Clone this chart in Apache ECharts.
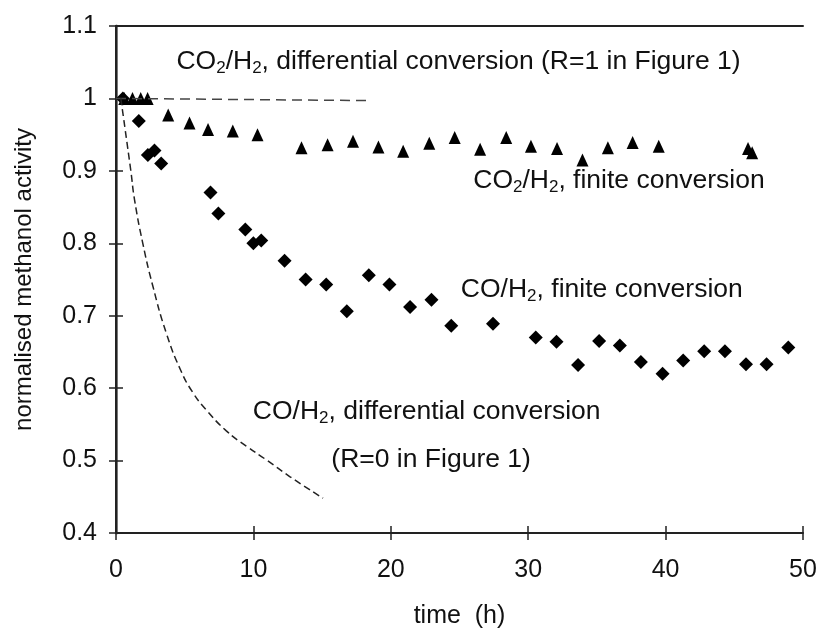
<!DOCTYPE html>
<html>
<head>
<meta charset="utf-8">
<script src="https://cdn.jsdelivr.net/npm/echarts@6/dist/echarts.min.js"></script>
<style>
  html, body { margin: 0; padding: 0; background: #fff; }
  #main { width: 821px; height: 628px; }
</style>
</head>
<body>
<div id="main"></div>
<script>
// CO2/H2, finite conversion (triangles)
let co2Finite = [
  [0.6, 1.0], [1.2, 1.0], [1.8, 1.0], [2.3, 1.0], [3.8, 0.977], [5.35, 0.966],
  [6.7, 0.957], [8.5, 0.955], [10.3, 0.95], [13.5, 0.932], [15.4, 0.936],
  [17.25, 0.941], [19.1, 0.933], [20.9, 0.927], [22.8, 0.938], [24.65, 0.946],
  [26.5, 0.93], [28.4, 0.946], [30.2, 0.934], [32.1, 0.931], [33.95, 0.915],
  [35.8, 0.932], [37.6, 0.939], [39.5, 0.934], [46.0, 0.931], [46.3, 0.925]
];

// CO/H2, finite conversion (diamonds)
let coFinite = [
  [0.5, 1.0], [1.66, 0.969], [2.32, 0.922], [2.8, 0.928], [3.29, 0.91],
  [6.88, 0.87], [7.45, 0.841], [9.41, 0.819], [10.0, 0.8], [10.57, 0.804],
  [12.27, 0.776], [13.8, 0.75], [15.3, 0.743], [16.8, 0.706], [18.4, 0.756],
  [19.9, 0.743], [21.4, 0.712], [22.96, 0.722], [24.4, 0.686], [27.44, 0.689],
  [30.55, 0.67], [32.06, 0.664], [33.63, 0.632], [35.16, 0.665], [36.67, 0.659],
  [38.2, 0.636], [39.78, 0.62], [41.28, 0.638], [42.81, 0.651], [44.32, 0.651],
  [45.85, 0.633], [47.35, 0.633], [48.93, 0.656]
];

// CO2/H2, differential conversion (R=1)
let co2Diff = [[0, 1.0], [18.4, 0.997]];

// CO/H2, differential conversion (R=0)
let coDiff = [
  [0.35, 1.0], [1.08, 0.9], [1.35, 0.86], [1.95, 0.8], [2.68, 0.741],
  [3.66, 0.676], [4.7, 0.625], [5.59, 0.594], [6.57, 0.57], [8.03, 0.541],
  [9.48, 0.52], [10.94, 0.501], [12.64, 0.478], [15.07, 0.448]
];

// annotation anchors (left edge, vertical centre) in data units
let noteAnchors = [[4.4, 1.051], [26.0, 0.886], [25.1, 0.736], [9.96, 0.568], [15.67, 0.501]];
let noteTexts = [
  "CO{s|2}/H{s|2}, differential conversion (R=1 in Figure 1)",
  "CO{s|2}/H{s|2}, finite conversion",
  "CO/H{s|2}, finite conversion",
  "CO/H{s|2}, differential conversion",
  "(R=0 in Figure 1)"
];

let xTicks = { min: 0, max: 50, interval: 10 };
let yTicks = { min: 0.4, max: 1.1, interval: 0.1 };

let font = "Liberation Sans, Arial, sans-serif";
let axisColor = "#222";
let textColor = "#111";

let notes = noteAnchors.map(function (p, i) {
  return { value: p, label: { formatter: noteTexts[i] } };
});

// helper for the extra axes that only draw the inner half of the ticks / box edges
function plainAxis(ticks, position, showLine, innerTicks) {
  return {
    type: "value",
    position: position,
    min: ticks.min,
    max: ticks.max,
    interval: ticks.interval,
    axisLine: { show: showLine, lineStyle: { color: axisColor, width: 2 } },
    axisTick: { show: innerTicks, inside: true, length: 7, lineStyle: { color: axisColor, width: 1.5 } },
    axisLabel: { show: false },
    splitLine: { show: false }
  };
}

var myChart = echarts.init(document.getElementById("main"));

var option = {
  animation: false,
  textStyle: { fontFamily: font },
  grid: { left: 116, right: 18, top: 26, bottom: 95, outerBoundsMode: "none" },
  xAxis: [
    {
      type: "value",
      min: xTicks.min,
      max: xTicks.max,
      interval: xTicks.interval,
      name: "time  (h)",
      nameLocation: "middle",
      nameGap: 71,
      nameTextStyle: { fontSize: 25, color: textColor, fontFamily: font },
      axisLine: { show: true, lineStyle: { color: axisColor, width: 2 } },
      axisTick: { show: true, length: 7, lineStyle: { color: axisColor, width: 1.5 } },
      axisLabel: { fontSize: 25, color: textColor, margin: 25, fontFamily: font },
      splitLine: { show: false }
    },
    plainAxis(xTicks, "top", true, false),
    plainAxis(xTicks, "bottom", false, true)
  ],
  yAxis: [
    {
      type: "value",
      min: yTicks.min,
      max: yTicks.max,
      interval: yTicks.interval,
      name: "normalised methanol activity",
      nameLocation: "middle",
      nameGap: 80,
      nameTextStyle: { fontSize: 24, color: textColor, fontFamily: font },
      axisLine: { show: true, lineStyle: { color: "#777", width: 3 } },
      axisTick: { show: true, length: 7, lineStyle: { color: axisColor, width: 1.5 } },
      axisLabel: { fontSize: 25, color: textColor, margin: 19, fontFamily: font },
      splitLine: { show: false }
    },
    plainAxis(yTicks, "right", true, false),
    plainAxis(yTicks, "left", false, true)
  ],
  series: [
    {
      name: "CO2/H2 differential",
      type: "line",
      data: co2Diff,
      showSymbol: false,
      lineStyle: { color: "#444", width: 1.5, type: [10, 6] }
    },
    {
      name: "CO/H2 differential",
      type: "line",
      smooth: 0.5,
      data: coDiff,
      showSymbol: false,
      lineStyle: { color: "#222", width: 1.5, type: [7, 4] }
    },
    {
      name: "CO2/H2 finite",
      type: "scatter",
      data: co2Finite,
      symbol: "triangle",
      symbolSize: [12, 13],
      itemStyle: { color: "#000", opacity: 1 }
    },
    {
      name: "CO/H2 finite",
      type: "scatter",
      data: coFinite,
      symbol: "diamond",
      symbolSize: 14,
      itemStyle: { color: "#000", opacity: 1 }
    },
    {
      name: "notes",
      type: "scatter",
      data: notes,
      symbolSize: 0,
      silent: true,
      itemStyle: { opacity: 1 },
      label: {
        show: true,
        position: "right",
        distance: 0,
        fontSize: 26.5,
        color: textColor,
        fontFamily: font,
        rich: {
          s: { fontSize: 17, padding: [13, 0, 0, 0], color: textColor, fontFamily: font }
        }
      }
    }
  ]
};

myChart.setOption(option);
</script>
</body>
</html>
